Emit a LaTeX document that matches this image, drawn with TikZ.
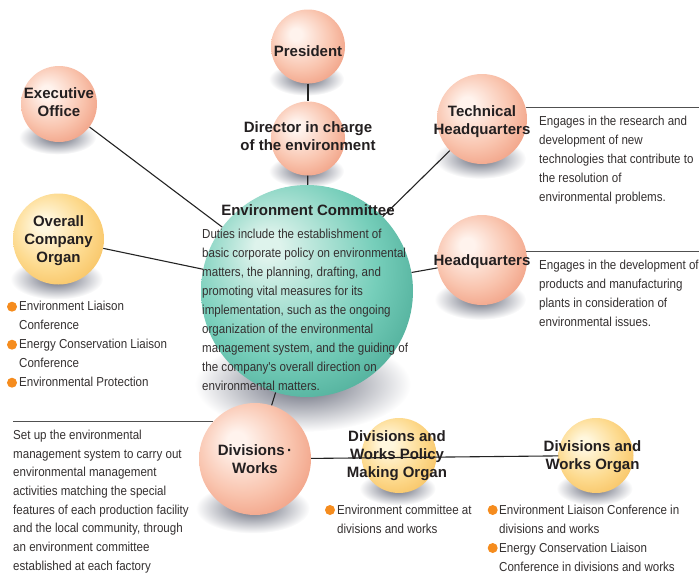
\documentclass[tikz,border=0pt]{standalone}
\usepackage{fontspec}
\setmainfont{Liberation Sans}
\newfontfamily\condfont[FakeStretch=0.89]{Liberation Sans}

\definecolor{salmonA}{RGB}{255,243,237}
\definecolor{salmonB}{RGB}{249,196,174}
\definecolor{salmonC}{RGB}{238,148,118}
\definecolor{tealA}{RGB}{222,243,236}
\definecolor{tealB}{RGB}{118,206,186}
\definecolor{tealC}{RGB}{60,158,138}
\definecolor{yelA}{RGB}{255,247,222}
\definecolor{yelB}{RGB}{253,218,142}
\definecolor{yelC}{RGB}{246,188,86}
\definecolor{shadowcol}{RGB}{100,104,120}
\definecolor{lblcol}{RGB}{35,31,32}
\definecolor{desccol}{RGB}{52,48,48}
\definecolor{linecol}{RGB}{35,35,35}
\definecolor{rulecol}{RGB}{80,80,80}
\definecolor{bulletcol}{RGB}{245,140,30}

\pgfdeclareradialshading{salmonball}{\pgfpoint{-9bp}{9bp}}{color(0bp)=(salmonA); color(4bp)=(salmonA); color(21bp)=(salmonB); color(36bp)=(salmonC); color(50bp)=(salmonC)}
\pgfdeclareradialshading{tealball}{\pgfpoint{-10bp}{11bp}}{color(0bp)=(tealA); color(3bp)=(tealA); color(22bp)=(tealB); color(38bp)=(tealC); color(50bp)=(tealC)}
\pgfdeclareradialshading{yelball}{\pgfpoint{-9bp}{9bp}}{color(0bp)=(yelA); color(4bp)=(yelA); color(21bp)=(yelB); color(36bp)=(yelC); color(50bp)=(yelC)}

\tikzset{
  ball/.style={circle, inner sep=0pt, shade, shading=#1},
  lbl/.style={font=\fontsize{15}{18}\selectfont\bfseries, text=lblcol, align=center, inner sep=0pt},
  desc/.style={font=\condfont\fontsize{13}{19}\selectfont, text=desccol, align=left, inner sep=0pt, anchor=north west},
  conn/.style={draw=linecol, line width=1.1pt},
  rule/.style={draw=rulecol, line width=1.2pt}
}

% name/x/y/radius/shading
\def\balls{pres/308/46.5/37/salmonball, dir/308/138.5/37/salmonball,
  exec/59/104/38/salmonball, tech/482/119/45/salmonball, hq/482/260/45/salmonball,
  ec/307/291/106/tealball, oco/58.5/239/45.5/yelball, dw/255/459/56/salmonball,
  pol/399/455.5/37.5/yelball, wo/596/455.5/37.5/yelball}

\begin{document}
\begin{tikzpicture}[x=1pt, y=-1pt]
\useasboundingbox (0,0) rectangle (699,573);

% shadows
\foreach \n/\x/\y/\r/\s in \balls
  \shade[inner color=shadowcol, outer color=white] ({\x-0.04*\r},{\y+0.88*\r}) ellipse [x radius={1.02*\r*1pt}, y radius={0.45*\r*1pt}];

% balls
\foreach \n/\x/\y/\r/\s in \balls
  \node[ball=\s, minimum size=2*\r*1pt] (\n) at (\x,\y) {};

\coordinate (techend) at (699,107);
\coordinate (hqend) at (699,251);
\coordinate (dwend) at (13,422);

\draw[conn] (pres) -- (dir);
\draw[conn] (dir) -- (ec);
\draw[conn] (exec) -- (ec);
\draw[conn] (oco) -- (ec);
\draw[conn] (tech) -- (ec);
\draw[conn] (hq) -- (ec);
\draw[conn] (ec) -- (dw);
\draw[conn] (dw) -- (wo);
\draw[rule] (tech.15) -- (tech.15 -| techend);
\draw[rule] (hq.11.5) -- (hq.11.5 -| hqend);
\draw[rule] (dw.138.6) -- (dw.138.6 -| dwend);

% labels
\node[lbl] (pres-t) at (308,51) {President};
\node[lbl] (dir-t) at (308,136) {Director in charge\\of the environment};
\node[lbl] (exec-t) at (59,102.5) {Executive\\Office};
\node[lbl] (tech-t) at (482,121.4) {Technical\\Headquarters};
\node[lbl] (hq-t) at (482,262) {Headquarters};
\node[lbl] (ec-t) at (308,209.7) {Environment Committee};
\node[lbl] (oco-t) at (58.5,241) {Overall\\Company\\Organ};
\node[lbl] (dw-t) at (255,459) {Divisions\,·\\Works};
\node[lbl] (pol-t) at (397,455.5) {Divisions and\\Works Policy\\Making Organ};
\node[lbl] (wo-t) at (592.5,456.2) {Divisions and\\Works Organ};

% descriptions
\node[desc] (ec-d) at (202,228.5) {Duties include the establishment of\\basic corporate policy on environmental\\matters, the planning, drafting, and\\promoting vital measures for its\\implementation, such as the ongoing\\organization of the environmental\\management system, and the guiding of\\the company's overall direction on\\environmental matters.};
\node[desc] (tech-d) at (539,116.2) {Engages in the research and\\development of new\\technologies that contribute to\\the resolution of\\environmental problems.};
\node[desc] (hq-d) at (539,259.5) {Engages in the development of\\products and manufacturing\\plants in consideration of\\environmental issues.};
\node[desc] (oco-d) at (19,301.2) {Environment Liaison\\Conference\\Energy Conservation Liaison\\Conference\\Environmental Protection};
\node[desc, font=\condfont\fontsize{13}{18.7}\selectfont] (dw-d) at (13,429.8) {Set up the environmental\\management system to carry out\\environmental management\\activities matching the special\\features of each production facility\\and the local community, through\\an environment committee\\established at each factory};
\node[desc] (pol-d) at (337,504.5) {Environment committee at\\divisions and works};
\node[desc] (wo-d) at (499,504.5) {Environment Liaison Conference in\\divisions and works\\Energy Conservation Liaison\\Conference in divisions and works};

% bullets
\foreach \p in {(12,306.7),(12,344.7),(12,382.7),(330,510),(492.7,510),(492.7,548)}
  \fill[bulletcol] \p circle (5pt);

\end{tikzpicture}
\end{document}
